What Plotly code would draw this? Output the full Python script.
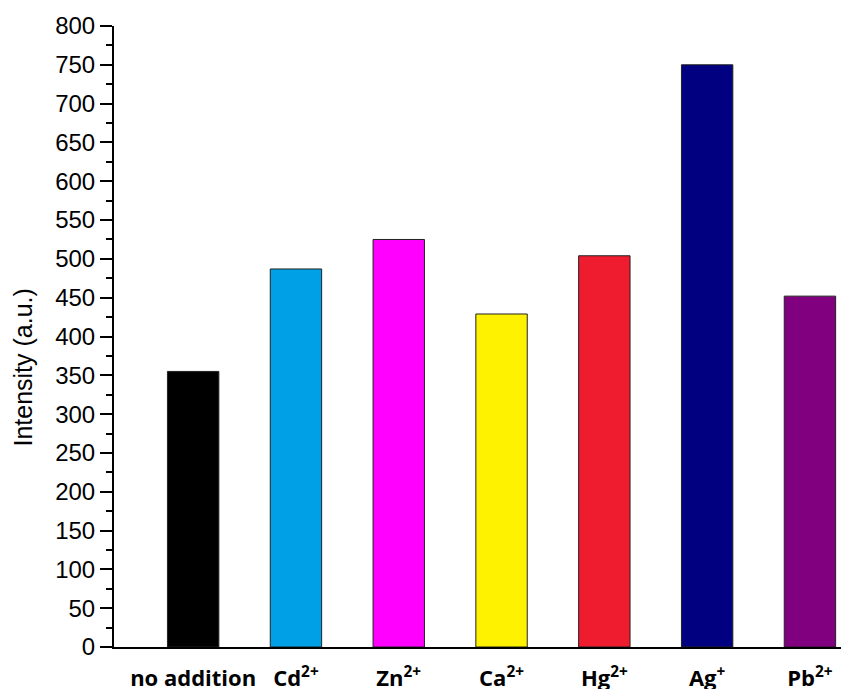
import plotly.graph_objects as go

categories = ["no addition", "Cd<sup>2+</sup>", "Zn<sup>2+</sup>", "Ca<sup>2+</sup>",
              "Hg<sup>2+</sup>", "Ag<sup>+</sup>", "Pb<sup>2+</sup>"]
intensity = [355, 487, 525, 429, 504, 750, 452]
colors = ["#000000", "#00A0E6", "#FF00FF", "#FFF200", "#EE1C2E", "#000080", "#800080"]
y_ticks = list(range(0, 801, 50))

fig = go.Figure()
fig.add_trace(go.Bar(
    x=list(range(len(categories))),
    y=intensity,
    width=0.5,
    marker=dict(color=colors, line=dict(color="#222222", width=1)),
))

fig.update_layout(
    width=841, height=681,
    margin=dict(l=106, r=0, t=18, b=42),
    paper_bgcolor="white", plot_bgcolor="white",
    showlegend=False,
    font=dict(family="Liberation Sans, Arial", color="black"),
)
fig.update_xaxes(
    range=[-0.77, 6.38],
    tickmode="array",
    tickvals=list(range(len(categories))),
    ticktext=[f"<b>{c}</b>" for c in categories],
    tickfont=dict(family="Open Sans", size=22, color="black"),
    ticks="",
    ticklabelstandoff=11,
    showline=True, linecolor="black", linewidth=2,
    showgrid=False, zeroline=False,
    automargin=False,
)
fig.update_yaxes(
    range=[0, 800],
    tickmode="array",
    tickvals=y_ticks,
    ticktext=[str(v) for v in y_ticks],
    tickfont=dict(family="Liberation Sans, Arial", size=24, color="black"),
    ticks="outside", ticklen=12, tickwidth=2, tickcolor="black",
    minor=dict(ticks="outside", ticklen=6, tickwidth=2, tickcolor="black", dtick=25),
    showline=True, linecolor="black", linewidth=2,
    showgrid=False, zeroline=False,
    automargin=False,
)
fig.add_annotation(
    text="Intensity (a.u.)",
    xref="paper", yref="paper",
    x=0, y=0.45, xanchor="center", yanchor="middle",
    xshift=-91,
    textangle=-90, showarrow=False,
    font=dict(family="Liberation Sans, Arial", size=25, color="black"),
)

fig.write_html("out.html")
